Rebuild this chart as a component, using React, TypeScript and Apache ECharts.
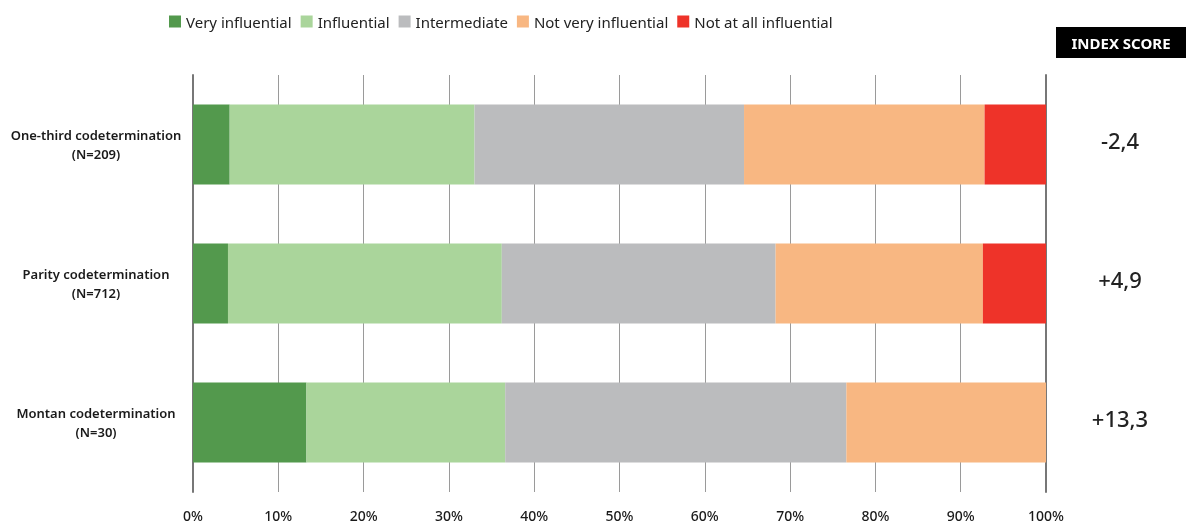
import React, { useEffect, useRef } from "react";
import * as echarts from "echarts";

const categories = [
  "One-third codetermination\n(N=209)",
  "Parity codetermination\n(N=712)",
  "Montan codetermination\n(N=30)",
];
const seriesNames = [
  "Very influential",
  "Influential",
  "Intermediate",
  "Not very influential",
  "Not at all influential",
];
const veryInfluential = [4.3, 4.1, 13.3];
const influential = [28.7, 32.1, 23.3];
const intermediate = [31.6, 32.1, 40.0];
const notVeryInfluential = [28.2, 24.3, 23.4];
const notAtAllInfluential = [7.2, 7.4, 0];
const indexScores = [-2.4, 4.9, 13.3];
const xTicks = [0, 10, 20, 30, 40, 50, 60, 70, 80, 90, 100];
const colors = ["#53994d", "#aad59b", "#bbbcbe", "#f8b782", "#ee3329"];

const FONT = "Noto Sans";

export default function App() {
  const ref = useRef<HTMLDivElement>(null);
  useEffect(() => {
    if (!ref.current) return;
    const chart = echarts.init(ref.current, undefined, { renderer: "svg" });
    const values = [veryInfluential, influential, intermediate, notVeryInfluential, notAtAllInfluential];
    const fmtScore = (v: number) => (v > 0 ? "+" : "") + v.toFixed(1).replace(".", ",");
    chart.setOption({
      animation: false,
      textStyle: { fontFamily: FONT },
      legend: {
        left: 164,
        top: 9,
        itemWidth: 12,
        itemHeight: 12,
        itemGap: 9,
        icon: "rect",
        data: seriesNames,
        textStyle: { fontSize: 15, color: "#222", fontFamily: FONT },
      },
      grid: { left: 193, top: 75, width: 853, height: 417, containLabel: false },
      xAxis: {
        type: "value",
        min: xTicks[0],
        max: xTicks[xTicks.length - 1],
        interval: 10,
        axisLine: { show: false },
        axisTick: { show: false },
        splitLine: { show: true, lineStyle: { color: "#9a9a9a", width: 1 } },
        axisLabel: {
          formatter: "{value}%",
          fontSize: 14,
          fontWeight: 500,
          color: "#1a1a1a",
          margin: 16,
          fontFamily: FONT,
        },
      },
      yAxis: [
        {
          type: "category",
          data: categories,
          inverse: true,
          axisTick: { show: false },
          axisLine: { show: true, lineStyle: { color: "#777", width: 2 } },
          axisLabel: {
            fontSize: 13,
            fontWeight: 600,
            color: "#1a1a1a",
            align: "center",
            margin: 97,
            lineHeight: 19,
            fontFamily: FONT,
          },
        },
        {
          type: "category",
          data: indexScores.map(fmtScore),
          inverse: true,
          position: "right",
          axisTick: { show: false },
          axisLine: { show: true, lineStyle: { color: "#777", width: 2 } },
          axisLabel: {
            align: "center",
            margin: 74,
            formatter: (v: string) => `{s|${v}}`,
            rich: {
              s: {
                fontSize: 22,
                fontWeight: 500,
                color: "#222",
                fontFamily: FONT,
                padding: [0, 0, 10, 0],
              },
            },
          },
        },
      ],
      series: seriesNames.map((name, i) => ({
        name,
        type: "bar",
        stack: "total",
        barWidth: 80,
        itemStyle: { color: colors[i] },
        data: values[i],
      })),
      graphic: [
        {
          type: "rect",
          shape: { x: 1056, y: 27, width: 130, height: 31 },
          style: { fill: "#000" },
        },
        {
          type: "text",
          x: 1121,
          y: 43,
          style: {
            text: "INDEX SCORE",
            fill: "#fff",
            font: `bold 15px "${FONT}"`,
            textAlign: "center",
            textVerticalAlign: "middle",
          },
        },
      ],
    });
    return () => chart.dispose();
  }, []);
  return (
    <div
      ref={ref}
      style={{ position: "fixed", left: 0, top: 0, width: 1186, height: 525 }}
    />
  );
}
